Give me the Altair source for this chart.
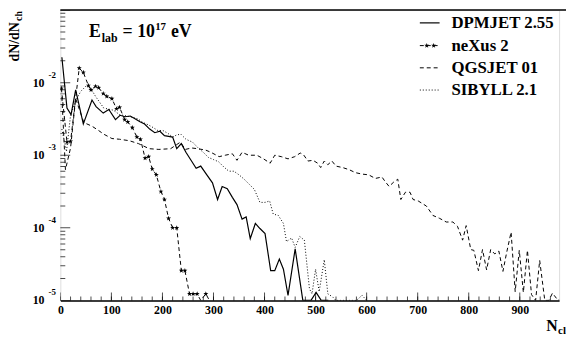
import altair as alt
import pandas as pd

FONT = "Liberation Serif"

# ---------------- data (log10 of dN/dNch, 0 = empty bin) -------------
dpm_x = [3, 13, 21, 30, 45, 62, 70, 84, 95, 108, 117, 127, 137, 147, 156, 165, 175, 185, 195,
         204, 212, 220, 228, 237, 246, 256, 266, 275, 288, 298, 308, 317, 327, 337, 346, 356,
         364, 372, 382, 391, 401, 412, 420, 429, 437, 446, 460, 475, 491, 501, 511, 525]
dpm_l = [-1.65, -2.35, -2.44, -2.10, -2.57, -2.24, -2.33, -2.42, -2.37, -2.51, -2.45, -2.47,
         -2.46, -2.50, -2.54, -2.57, -2.64, -2.69, -2.67, -2.73, -2.74, -2.75, -2.91, -2.84,
         -2.96, -3.07, -3.18, -3.15, -3.28, -3.38, -3.61, -3.43, -3.46, -3.58, -3.68, -3.88,
         -3.85, -4.15, -3.94, -4.01, -4.08, -4.59, -4.59, -4.43, -4.57, -4.93, -4.29, 0, 0,
         -4.89, 0, 0]

nex_x = [2, 13, 20, 37, 45, 55, 60, 69, 75, 84, 91, 101, 110, 116, 126, 132, 141, 150, 157,
         166, 173, 180, 188, 197, 204, 212, 220, 228, 237, 244, 253, 260, 268, 275, 285, 292]
nex_l = [-2.08, -2.82, -2.81, -1.80, -1.86, -2.04, -2.10, -2.05, -2.07, -2.15, -2.19, -2.22,
         -2.36, -2.34, -2.51, -2.54, -2.62, -2.75, -2.78, -3.04, -3.02, -3.19, -3.27, -3.50,
         -3.61, -3.87, -4.00, -4.00, -4.59, -4.59, -4.91, -4.91, -4.91, 0, -4.91, 0]

qgs_x = [3, 10, 20, 30, 46, 62, 75, 85, 101, 116, 135, 153, 174, 193, 216, 235, 245, 257, 269,
         285, 295, 311, 323, 337, 346, 356, 369, 385, 398, 411, 420, 433, 446, 459, 470, 476,
         485, 495, 504, 510, 517, 524, 532, 540, 553, 566, 578, 591, 604, 617, 630, 636, 644,
         653, 661, 667, 676, 685, 691, 701, 717, 730, 743, 756, 769, 778, 788, 795, 804, 810,
         819, 827, 835, 843, 851, 859, 867, 874, 883, 891, 899, 907, 915, 923, 931, 939, 949,
         957, 964, 975, 985]
qgs_l = [-2.20, -3.20, -2.90, -2.22, -2.55, -2.60, -2.66, -2.71, -2.77, -2.78, -2.80, -2.84,
         -2.91, -2.92, -2.91, -2.82, -2.92, -2.90, -2.91, -2.93, -2.96, -3.02, -3.00, -2.98,
         -3.07, -2.96, -3.00, -3.00, -3.05, -3.11, -3.00, -3.02, -3.05, -3.02, -2.97, -2.99,
         -3.08, -3.07, -3.11, -3.17, -3.08, -3.13, -3.08, -3.15, -3.17, -3.20, -3.24, -3.26,
         -3.27, -3.32, -3.30, -3.36, -3.43, -3.37, -3.33, -3.61, -3.51, -3.51, -3.61, -3.63,
         -3.70, -3.83, -3.87, -3.92, -3.92, -3.98, -4.17, -3.97, -4.30, -4.31, -4.59, -4.30,
         -4.58, -4.30, -4.36, -4.32, -4.60, -4.35, -4.06, -4.88, -4.31, -4.89, -4.31, -4.92,
         0, -4.45, 0, 0, -4.90, 0, -4.95]

sib_x = [3, 12, 20, 30, 40, 50, 58, 69, 85, 104, 116, 130, 143, 152, 162, 172, 182, 191, 201,
         211, 220, 228, 236, 246, 259, 270, 280, 290, 300, 310, 320, 330, 340, 350, 360, 370,
         380, 391, 401, 410, 417, 427, 437, 443, 453, 460, 469, 478, 488, 493, 500, 507, 517,
         524, 533, 540, 560, 580, 591, 600]
sib_l = [-2.64, -2.95, -2.45, -2.25, -2.12, -2.05, -2.06, -2.19, -2.35, -2.38, -2.44, -2.46,
         -2.48, -2.50, -2.55, -2.58, -2.62, -2.66, -2.66, -2.70, -2.75, -2.72, -2.71, -2.78,
         -2.82, -2.90, -2.96, -3.03, -3.06, -3.09, -3.16, -3.22, -3.22, -3.27, -3.33, -3.40,
         -3.47, -3.65, -3.65, -3.63, -3.81, -3.83, -3.94, -4.19, -4.14, -4.27, -4.12, -4.17,
         -4.84, -4.91, -4.57, -4.88, -4.44, -4.91, -4.95, 0, 0, 0, -4.93, 0]

series_names = ["DPMJET 2.55", "neXus 2", "QGSJET 01", "SIBYLL 2.1"]
x_ticks_major = [0, 100, 200, 300, 400, 500, 600, 700, 800, 900]
x_ticks_minor = list(range(0, 980, 20))
y_major = [1e-5, 1e-4, 1e-3, 1e-2, 1e-1]
y_minor = [m * 10.0 ** e for e in range(-5, -1) for m in range(2, 10)]
y_label_vals = [1e-5, 1e-4, 1e-3, 1e-2]
y_label_base = ["10", "10", "10", "10"]
y_label_exp = ["-5", "-4", "-3", "-2"]

W, H = 505, 294


def frame(xs, ls):
    return pd.DataFrame({"x": xs, "y": [10 ** l if l != 0 else 1e-7 for l in ls]})


xscale = alt.Scale(domain=[0, 977], nice=False, zero=False)
yscale = alt.Scale(type="log", domain=[1e-5, 1e-1], nice=False, clamp=True)

xaxis = alt.Axis(values=x_ticks_major, ticks=False, grid=False, domain=True, domainColor="black",
                 domainWidth=1.5, labelFont=FONT, labelFontWeight="bold", labelFontSize=12,
                 labelColor="black", labelPadding=4, labelFlush=False, title=None)
yaxis = alt.Axis(values=y_label_vals, labels=False, ticks=False, grid=False, domain=True,
                 domainColor="black", domainWidth=1.5, title=None)

dashes = {"DPMJET 2.55": None, "neXus 2": [4, 3], "QGSJET 01": [4, 3], "SIBYLL 2.1": [1, 2]}
data_by = {"DPMJET 2.55": (dpm_x, dpm_l), "neXus 2": (nex_x, nex_l),
           "QGSJET 01": (qgs_x, qgs_l), "SIBYLL 2.1": (sib_x, sib_l)}

layers = []
first = True
for name in series_names:
    xs, ls = data_by[name]
    kw = dict(color="black", strokeWidth=1.2 if dashes[name] is None else 1.0, clip=True)
    if dashes[name] is not None:
        kw["strokeDash"] = dashes[name]
    layers.append(
        alt.Chart(frame(xs, ls)).mark_line(**kw).encode(
            x=alt.X("x:Q", scale=xscale, axis=xaxis if first else None),
            y=alt.Y("y:Q", scale=yscale, axis=yaxis if first else None),
        )
    )
    first = False

STAR = "M0,-1L0.24,-0.33L0.95,-0.31L0.38,0.12L0.59,0.81L0,0.4L-0.59,0.81L-0.38,0.12L-0.95,-0.31L-0.24,-0.33Z"
nex_df = frame(nex_x, nex_l)
layers.append(
    alt.Chart(nex_df[nex_df.y > 1e-6]).mark_point(shape=STAR, filled=True, color="black", size=28,
                                                  opacity=1, clip=True).encode(
        x=alt.X("x:Q", scale=xscale, axis=None), y=alt.Y("y:Q", scale=yscale, axis=None))
)


# ticks pointing inwards
def xticks(vals, length):
    return alt.Chart(pd.DataFrame({"x": vals})).mark_tick(
        orient="vertical", color="black", thickness=1, size=2 * length, clip=True
    ).encode(x=alt.X("x:Q", scale=xscale, axis=None), y=alt.value(H))


def yticks(vals, length):
    return alt.Chart(pd.DataFrame({"y": vals})).mark_tick(
        orient="horizontal", color="black", thickness=1, size=2 * length, clip=True
    ).encode(y=alt.Y("y:Q", scale=yscale, axis=None), x=alt.value(0))


layers += [xticks(x_ticks_minor, 4), xticks(x_ticks_major, 8), yticks(y_minor, 5), yticks(y_major, 10)]

one = pd.DataFrame({"a": [0]})
# top frame line
layers.append(alt.Chart(one).mark_rule(color="black", strokeWidth=1.5).encode(
    x=alt.value(0), x2=alt.value(W + 10), y=alt.value(0)))

# y labels: "10" with a raised exponent
ylab = pd.DataFrame({"y": y_label_vals, "b": y_label_base, "t": y_label_exp})
layers.append(alt.Chart(ylab).mark_text(
    align="right", baseline="middle", font=FONT, fontWeight="bold", fontSize=12, color="black"
).encode(x=alt.value(-16), y=alt.Y("y:Q", scale=yscale, axis=None), text="b:N"))
layers.append(alt.Chart(ylab).mark_text(
    align="left", baseline="middle", font=FONT, fontWeight="bold", fontSize=9, dy=-8, color="black"
).encode(x=alt.value(-12), y=alt.Y("y:Q", scale=yscale, axis=None), text="t:N"))


def txt(s, x, y, size, **kw):
    return alt.Chart(one).mark_text(text=s, font=FONT, fontWeight="bold", fontSize=size,
                                    color="black", align=kw.pop("align", "left"),
                                    baseline=kw.pop("baseline", "alphabetic"), **kw).encode(
        x=alt.value(x), y=alt.value(y))


# energy label
layers += [txt("E", 29, 27, 18), txt("lab", 42, 32, 12), txt("= 10", 63, 27, 18),
           txt("17", 96, 20, 11), txt("eV", 112, 27, 18)]
# axis titles
layers += [txt("dN/dN", -42, 52, 14, angle=270), txt("ch", -39, 11, 10, angle=270)]
layers += [txt("N", 492, 325, 16), txt("cl", 504, 328, 11)]

# legend
rows = [13, 36, 58.5, 81]
for name, ry in zip(series_names, rows):
    kw = dict(color="black", strokeWidth=1.2 if dashes[name] is None else 1.0)
    if dashes[name] is not None:
        kw["strokeDash"] = dashes[name]
    layers.append(alt.Chart(one).mark_rule(**kw).encode(
        x=alt.value(364), x2=alt.value(384), y=alt.value(ry)))
    layers.append(txt(name, 396, ry, 17, baseline="middle"))
layers.append(alt.Chart(pd.DataFrame({"p": [371, 378]})).mark_point(
    shape=STAR, filled=True, color="black", size=28, opacity=1).encode(
    x=alt.X("p:Q", scale=alt.Scale(domain=[0, W], range=[0, W]), axis=None), y=alt.value(rows[1])))

chart = alt.layer(*layers).resolve_scale(x="independent").properties(
    width=W, height=H,
    autosize=alt.AutoSizeParams(type="none"),
    padding={"left": 53, "top": 0, "right": 7, "bottom": 36},
).configure_view(stroke=None).configure(background="white")

chart.save("out.html", embed_options={"renderer": "svg", "actions": False})
